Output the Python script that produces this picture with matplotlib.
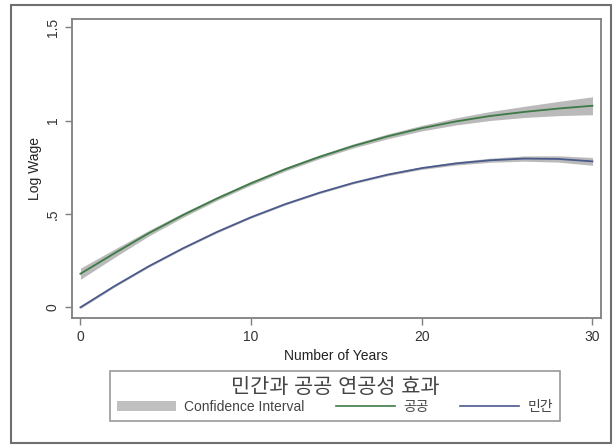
import numpy as np
import matplotlib.pyplot as plt
from matplotlib.patches import Patch, Rectangle
from matplotlib.lines import Line2D

plt.rcParams['font.family'] = ['Liberation Sans', 'Noto Sans CJK KR', 'DejaVu Sans']

years = [0, 2, 4, 6, 8, 10, 12, 14, 16, 18, 20, 22, 24, 26, 28, 30]
public = [0.18, 0.29, 0.397, 0.494, 0.583, 0.665, 0.740, 0.806, 0.865, 0.916,
          0.960, 0.996, 1.025, 1.047, 1.065, 1.08]
public_ci = [0.03, 0.022, 0.015, 0.012, 0.010, 0.010, 0.010, 0.010, 0.011, 0.013,
             0.015, 0.019, 0.024, 0.030, 0.038, 0.048]
private = [0.0, 0.114, 0.22, 0.316, 0.404, 0.483, 0.553, 0.614, 0.667, 0.711,
           0.746, 0.771, 0.788, 0.797, 0.795, 0.782]
private_ci = [0.006, 0.005, 0.005, 0.005, 0.005, 0.005, 0.005, 0.005, 0.005, 0.006,
              0.007, 0.009, 0.011, 0.014, 0.017, 0.021]

x_ticks = [0, 10, 20, 30]
y_ticks = [0, 0.5, 1, 1.5]
y_labels = ['0', '.5', '1', '1.5']

green = '#3d7a45'
navy = '#4b5a8c'
ci_color = '#a9a9a9'
frame = '#7f7f7f'

fig = plt.figure(figsize=(6.16, 4.45), dpi=100)
ax = fig.add_axes([0.1164, 0.2854, 0.8593, 0.6712])

x = np.array(years)
g = np.array(public)
b = np.array(private)
gc = np.array(public_ci)
bc = np.array(private_ci)

ax.fill_between(x, g - gc, g + gc, color=ci_color, alpha=0.8, linewidth=0)
ax.fill_between(x, b - bc, b + bc, color=ci_color, alpha=0.8, linewidth=0)
ax.plot(x, g, color=green, linewidth=1.3)
ax.plot(x, b, color=navy, linewidth=1.3)

ax.set_xlim(-0.51, 30.5)
ax.set_ylim(-0.057, 1.543)
ax.set_xticks(x_ticks)
ax.set_yticks(y_ticks)
ax.set_yticklabels(y_labels, rotation=90, va='center')
ax.tick_params(colors='#333333', labelsize=10, length=5, width=1.0)
ax.tick_params(axis='both', color=frame)
for s in ax.spines.values():
    s.set_color(frame)
    s.set_linewidth(1.3)

ax.set_xlabel('Number of Years', fontsize=10, color='#222222', labelpad=4)
ax.set_ylabel('Log Wage', fontsize=10, color='#222222', labelpad=3)

handles = [Patch(facecolor='#c0c0c0', edgecolor='none'),
           Line2D([], [], color=green, linewidth=1.2),
           Line2D([], [], color=navy, linewidth=1.2)]
labels = ['Confidence Interval', '공공', '민간']
leg = fig.legend(handles, labels, ncol=3, loc='center',
                 bbox_to_anchor=(335 / 616, 1 - 396 / 445),
                 title='민간과 공공 연공성 효과', title_fontsize=15, fontsize=10,
                 frameon=True, fancybox=False, handlelength=4.2, handletextpad=0.6,
                 columnspacing=2.3, borderpad=0.5, labelspacing=0.2)
leg.get_frame().set_edgecolor(frame)
leg.get_frame().set_linewidth(1.2)
for t in leg.get_texts():
    t.set_color('#444444')
leg.get_title().set_color('#444444')

fig.patches.append(Rectangle((11 / 616, 2 / 445), 600 / 616, 438 / 445,
                             transform=fig.transFigure, fill=False,
                             edgecolor='#6f6f6f', linewidth=1.5))

fig.savefig('out.png', dpi=100)
